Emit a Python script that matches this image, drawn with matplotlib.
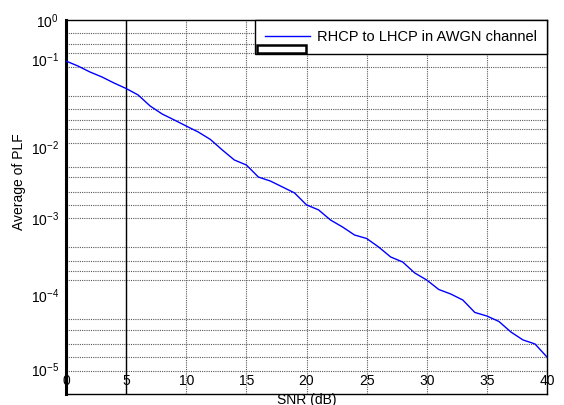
import numpy as np
import matplotlib
matplotlib.use("Agg")
import matplotlib.pyplot as plt
from matplotlib.ticker import FixedLocator, FixedFormatter
from matplotlib.patches import Rectangle

plt.rcParams['font.family'] = ['Liberation Sans', 'DejaVu Sans']
plt.rcParams['mathtext.fontset'] = 'custom'
plt.rcParams['mathtext.rm'] = 'Liberation Sans'
plt.rcParams['mathtext.it'] = 'Liberation Sans:italic'
plt.rcParams['mathtext.bf'] = 'Liberation Sans:bold'
plt.rcParams['font.size'] = 10

# ---- data ----
snr_db = list(range(0, 41))
avg_plf = [0.0948, 0.0832, 0.0711, 0.0624, 0.0533, 0.0462, 0.0390, 0.0292,
           0.0237, 0.0203, 0.0173, 0.0148, 0.0122, 0.00908, 0.00658, 0.00560,
           0.00380, 0.00334, 0.00276, 0.00228, 0.00155, 0.00132, 0.000955,
           0.000774, 0.000608, 0.000548, 0.000424, 0.000314, 0.000270,
           0.000194, 0.000157, 0.000118, 0.000103, 8.55e-5, 5.81e-5, 5.20e-5,
           4.39e-5, 3.16e-5, 2.47e-5, 2.18e-5, 1.45e-5]
series_label = 'RHCP to LHCP in AWGN channel'
x_ticks = [0, 5, 10, 15, 20, 25, 30, 35, 40]
y_ticks = [1e0, 1e-1, 1e-2, 1e-3, 1e-4, 1e-5]
y_tick_labels = [r'$\mathregular{10^{0}}$', r'$\mathregular{10^{-1}}$',
                 r'$\mathregular{10^{-2}}$', r'$\mathregular{10^{-3}}$',
                 r'$\mathregular{10^{-4}}$', r'$\mathregular{10^{-5}}$']

# ---- y scale as drawn in the original (decade spacing is uneven) ----
scale_log = [-20.0, -5.333, -5.0, -4.0, -3.0, -2.0, -1.0, 0.0, 5.0]
scale_pos = [-1100.0, 0.0, 25.0, 99.0, 175.5, 247.0, 335.0, 374.0, 749.0]
# horizontal grid lines (log10 values) as in the original
grid_logs = [-0.341, -0.623, -0.838, -1.0875, -1.415, -1.568, -1.6875, -1.801,
             -1.955, -2.280, -2.424, -2.636, -2.811, -2.997, -3.376, -3.559,
             -3.690, -3.808, -4.0, -4.324, -4.469, -4.662, -4.842, -5.023]


def fwd(v):
    v = np.asarray(v, dtype=float)
    lg = np.log10(np.where(v > 0, v, 1e-300))
    return np.interp(lg, scale_log, scale_pos)


def inv(p):
    p = np.asarray(p, dtype=float)
    return 10.0 ** np.interp(p, scale_pos, scale_log)


fig = plt.figure(figsize=(5.64, 4.05), dpi=100)
ax = fig.add_axes([66 / 564, 11 / 405, 481 / 564, 374 / 405])

ax.set_yscale('function', functions=(fwd, inv))
ax.set_xlim(0, 40)
ax.set_ylim(10 ** -5.333, 1.0)

line, = ax.plot(snr_db, avg_plf, color='#0000ff', lw=1.0, label=series_label,
                zorder=3)

ax.xaxis.set_major_locator(FixedLocator(x_ticks))
ax.set_xticklabels([str(t) for t in x_ticks])
ax.yaxis.set_major_locator(FixedLocator(y_ticks))
ax.yaxis.set_major_formatter(FixedFormatter(y_tick_labels))
ax.yaxis.set_minor_locator(FixedLocator([10 ** g for g in grid_logs]))

ax.tick_params(axis='both', which='both', length=0)
ax.tick_params(axis='y', which='major', pad=5, labelsize=10)
ax.tick_params(axis='x', which='major', pad=-14.5, labelsize=10)

gstyle = dict(color='0.35', linestyle=(0, (1, 1)), linewidth=0.8)
ax.grid(True, axis='x', which='major', **gstyle)
ax.grid(True, axis='y', which='minor', **gstyle)
ax.grid(False, axis='y', which='major')
ax.axvline(5, color='black', lw=1.0, zorder=2)

for s in ['top', 'right', 'bottom']:
    ax.spines[s].set_color('black')
    ax.spines[s].set_linewidth(1.0)
ax.spines['left'].set_linewidth(2.2)
ax.spines['left'].set_color('black')

ax.set_xlabel('SNR (dB)', fontsize=10)
ax.xaxis.set_label_coords(0.5, 0.004)
ax.set_ylabel('Average of PLF', fontsize=10)
ax.yaxis.set_label_coords(-0.083, 0.567)

leg = ax.legend(loc='upper right', bbox_to_anchor=(1.0, 1.0), borderaxespad=0,
                fancybox=False, framealpha=1, edgecolor='black',
                borderpad=0.68, handlelength=3.1, handletextpad=0.5,
                fontsize=10.5)
leg.get_frame().set_linewidth(1.0)

ax.add_patch(Rectangle((0.397, 0.912), 0.102, 0.021, transform=ax.transAxes,
                       fill=False, edgecolor='black', lw=1.8, zorder=6,
                       clip_on=False))

fig.savefig('out.png', dpi=100)
